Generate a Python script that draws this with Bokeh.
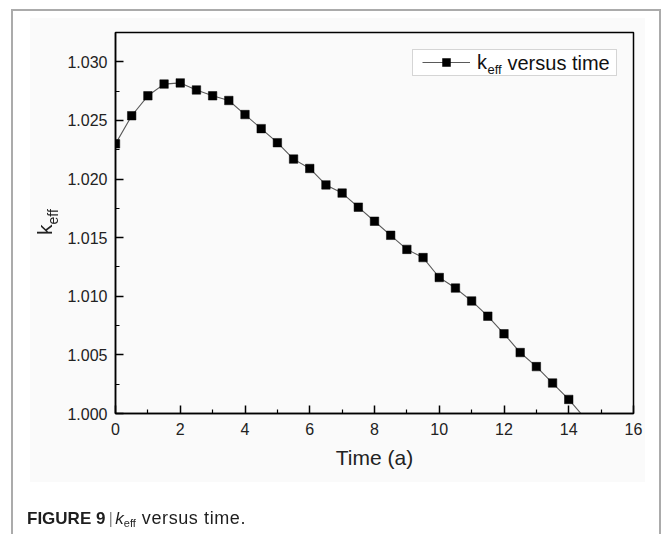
from bokeh.plotting import figure
from bokeh.models import (Range1d, FixedTicker, PrintfTickFormatter, Label,
                          Legend, LegendItem, BoxAnnotation, Div)
from bokeh.layouts import column
from bokeh.embed import file_html
from bokeh.resources import INLINE

# ---------------- data ----------------
time_a = [0.0, 0.5, 1.0, 1.5, 2.0, 2.5, 3.0, 3.5, 4.0, 4.5, 5.0, 5.5, 6.0, 6.5,
          7.0, 7.5, 8.0, 8.5, 9.0, 9.5, 10.0, 10.5, 11.0, 11.5, 12.0, 12.5,
          13.0, 13.5, 14.0, 14.5]
keff = [1.0230, 1.0254, 1.0271, 1.0281, 1.0282, 1.0276, 1.0271, 1.0267,
        1.0255, 1.0243, 1.0231, 1.0217, 1.0209, 1.0195, 1.0188, 1.0176,
        1.0164, 1.0152, 1.0140, 1.0133, 1.0116, 1.0107, 1.0096, 1.0083,
        1.0068, 1.0052, 1.0040, 1.0026, 1.0012, 0.9996]

x_ticks = [0, 2, 4, 6, 8, 10, 12, 14, 16]
x_minor_ticks = [1, 3, 5, 7, 9, 11, 13, 15]
x_tick_labels = ["0", "2", "4", "6", "8", "10", "12", "14", "16"]
y_ticks = [1.000, 1.005, 1.010, 1.015, 1.020, 1.025, 1.030]
y_minor_ticks = [1.0025, 1.0075, 1.0125, 1.0175, 1.0225, 1.0275, 1.0325]
y_tick_labels = ["1.000", "1.005", "1.010", "1.015", "1.020", "1.025", "1.030"]

x_title = "Time (a)"
y_title_main = "k"
y_title_sub = "eff"
legend_main = "k"
legend_sub = "eff"
legend_rest = "versus time"
caption_bold = "FIGURE 9"
caption_bar = "|"
caption_k = "k"
caption_sub = "eff"
caption_rest = "versus time."

# ---------------- layout (page pixels) ----------------
FIG_W, FIG_H = 664, 534
FRAME_L, FRAME_T, FRAME_R, FRAME_B = 115, 32, 633, 413
FONT = "Liberation Sans"


def sx(px):
    return px - FRAME_L


def sy(py):
    return FRAME_B - py


p = figure(width=FIG_W, height=FIG_H, output_backend="svg", toolbar_location=None,
           x_range=Range1d(0, 16), y_range=Range1d(1.000, 1.0325),
           min_border_left=FRAME_L, min_border_top=FRAME_T,
           min_border_right=FIG_W - FRAME_R, min_border_bottom=FIG_H - FRAME_B)
p.border_fill_color = None
p.background_fill_color = None
p.outline_line_color = "black"
p.outline_line_width = 1.5
p.xgrid.visible = False
p.ygrid.visible = False
p.styles = {
    "box-shadow": ("inset 11px 0 0 #ffffff, inset 0 9px 0 #ffffff, "
                   "inset -3px 0 0 #ffffff, inset 13px 0 0 #ababab, "
                   "inset 0 11px 0 #ababab, inset -5px 0 0 #ababab"),
    "background": ("linear-gradient(#fafafa, #fafafa) no-repeat 30px 18px / "
                   "615px 464px, #ffffff"),
}

# axes
p.xaxis.ticker = FixedTicker(ticks=x_ticks, minor_ticks=x_minor_ticks)
p.xaxis.major_label_overrides = dict(zip(x_ticks, x_tick_labels))
p.yaxis.ticker = FixedTicker(ticks=y_ticks, minor_ticks=y_minor_ticks)
p.yaxis.formatter = PrintfTickFormatter(format="%.3f")
p.yaxis.major_label_overrides = dict(zip(y_ticks, y_tick_labels))

for ax in (p.xaxis[0], p.yaxis[0]):
    ax.axis_line_color = "black"
    ax.axis_line_width = 1.5
    ax.major_tick_in = 8
    ax.major_tick_out = 0
    ax.minor_tick_in = 4
    ax.minor_tick_out = 0
    ax.major_tick_line_width = 1.5
    ax.minor_tick_line_width = 1.2
    ax.major_tick_line_color = "black"
    ax.minor_tick_line_color = "black"
    ax.major_label_text_font = FONT
    ax.major_label_text_font_size = "16px"
    ax.major_label_text_color = "#222222"

p.xaxis.major_label_standoff = 9
p.yaxis.major_label_standoff = 8
p.xaxis.axis_label = x_title
p.xaxis.axis_label_text_font = FONT
p.xaxis.axis_label_text_font_size = "21px"
p.xaxis.axis_label_text_font_style = "normal"
p.xaxis.axis_label_text_color = "#222222"
p.xaxis.axis_label_standoff = 8

# data
line_r = p.line(time_a, keff, line_color="#5a5a5a", line_width=1.1)
mark_r = p.scatter(time_a, keff, marker="square", size=8.5,
                   fill_color="black", line_color="black", line_width=0.5)

# legend (box + sample)
legend = Legend(items=[LegendItem(label=legend_main, renderers=[line_r, mark_r])],
                location=(sx(422), sy(73.5)), padding=0, spacing=0, margin=0,
                glyph_width=48, glyph_height=20, label_height=20, label_width=10,
                label_standoff=7, border_line_color=None, background_fill_alpha=0,
                label_text_font=FONT, label_text_font_size="20px",
                label_text_color="#111111")
p.add_layout(legend, "center")
p.add_layout(BoxAnnotation(left=sx(412), right=sx(616), top=sy(49), bottom=sy(75),
                           left_units="screen", right_units="screen",
                           top_units="screen", bottom_units="screen",
                           fill_color="white", fill_alpha=1.0, level="underlay",
                           line_color="#7a7a7a", line_width=1))


def add_label(px, py, text, size, color="#111111"):
    p.add_layout(Label(x=sx(px), y=sy(py), x_units="screen", y_units="screen",
                       text=text, text_font=FONT, text_font_size=size,
                       text_baseline="middle", text_align="left",
                       text_color=color))


add_label(487, 69, legend_sub, "13px")
add_label(507, 62, legend_rest, "20px")

# texts outside the plot frame (y title with subscript, figure caption)
ytitle_html = (
    f'<div style="position:fixed; left:34px; top:235px; transform-origin:0 0; '
    f'transform:rotate(-90deg); font-family:\'{FONT}\'; font-size:21px; '
    f'line-height:21px; color:#222; white-space:nowrap;">{y_title_main}'
    f'<span style="font-size:14px; vertical-align:-6px;">{y_title_sub}</span></div>'
)
caption_html = (
    f'<div style="position:fixed; left:27px; top:509.6px; font-family:\'{FONT}\'; '
    f'font-size:17px; line-height:17px; color:#1e1e1e; white-space:nowrap;">'
    f'<b>{caption_bold}</b>'
    f'<span style="margin-left:3px; color:#8c8c8c;">{caption_bar}</span>'
    f'<i style="margin-left:2.5px;">{caption_k}</i>'
    f'<span style="font-size:11px; vertical-align:-3px;">{caption_sub}</span>'
    f'<span style="margin-left:6px; font-size:18px; letter-spacing:0.6px;">'
    f'{caption_rest}</span></div>'
)
overlay = Div(text=ytitle_html + caption_html, width=FIG_W, height=1)

layout = column(p, overlay, spacing=0)
open("out.html", "w").write(file_html(layout, INLINE))
